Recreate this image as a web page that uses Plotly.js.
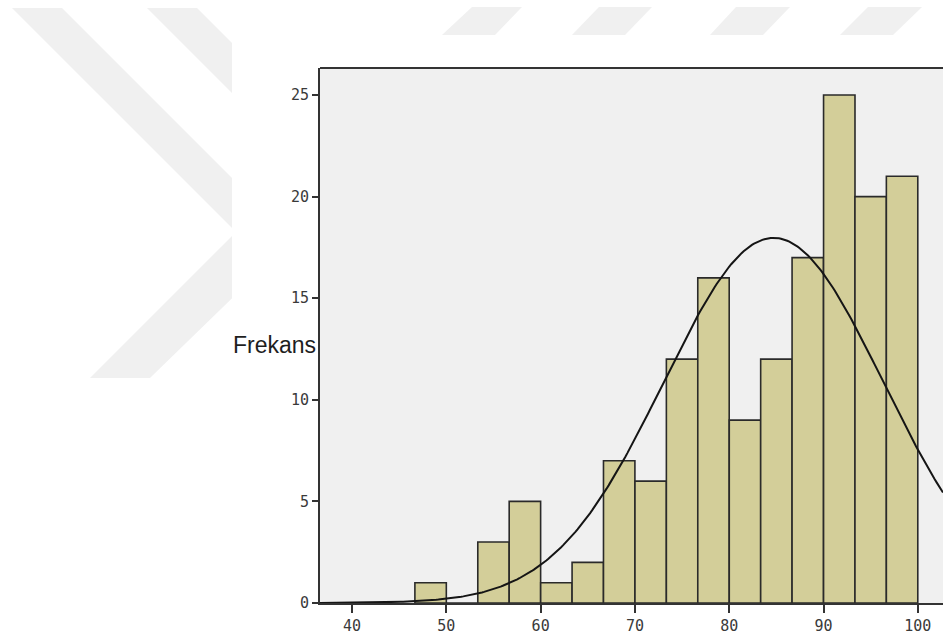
<!DOCTYPE html>
<html>
<head>
<meta charset="utf-8">
<script src="https://cdn.plot.ly/plotly-3.0.1.min.js"></script>
<style>
  html, body { margin: 0; padding: 0; background: #ffffff; }
  #chart { width: 943px; height: 636px; }
</style>
</head>
<body>
<div id="chart"></div>
<script>
// Histogram of scores: bin centres (bin width 10/3) and frequencies
const binCenters = [48.33, 51.67, 55, 58.33, 61.67, 65, 68.33, 71.67, 75, 78.33, 81.67, 85, 88.33, 91.67, 95, 98.33];
const frequencies = [1, 0, 3, 5, 1, 2, 7, 6, 12, 16, 9, 12, 17, 25, 20, 21];
const binWidth = 10 / 3;

// Fitted normal curve parameters
const curveMean = 84.7;
const curveSD = 11.62;

const xTickValues = [40, 50, 60, 70, 80, 90, 100];
const yTickValues = [0, 5, 10, 15, 20, 25];
const xRange = [36.6, 102.67];
const yRange = [0, 26.33];

// Normal curve scaled to counts (N * bin width * density)
const total = frequencies.reduce((a, b) => a + b, 0);
const curveX = [];
const curveY = [];
for (let i = 0; i <= 300; i++) {
  const x = xRange[0] + (xRange[1] - xRange[0]) * i / 300;
  const z = (x - curveMean) / curveSD;
  curveX.push(x);
  curveY.push(total * binWidth * Math.exp(-0.5 * z * z) / (curveSD * Math.sqrt(2 * Math.PI)));
}

// Page geometry of the plotting area (px)
const W = 943, H = 636;
const M = { l: 320, r: 0, t: 68, b: 33 };
const plotW = W - M.l - M.r, plotH = H - M.t - M.b;
const px2x = px => (px - M.l) / plotW;
const px2y = py => (H - M.b - py) / plotH;
const poly = pts => 'M ' + pts.map(p => px2x(p[0]).toFixed(4) + ',' + px2y(p[1]).toFixed(4)).join(' L ') + ' Z';

const wmColor = '#f0f0f0';
const shapes = [];
// faint background emblem
[
  [[12, 8], [62, 8], [293, 239], [150, 378], [90, 378], [236, 232]],
  [[147, 8], [197, 8], [300, 111], [250, 111]],
  [[442, 35], [472, 7], [522, 7], [495, 35]],
  [[572, 35], [599, 7], [652, 7], [625, 35]],
  [[710, 35], [736, 7], [790, 7], [763, 35]],
  [[840, 35], [868, 7], [922, 7], [893, 35]]
].forEach(p => shapes.push({
  type: 'path', xref: 'paper', yref: 'paper', layer: 'below',
  path: poly(p), fillcolor: wmColor, line: { width: 0 }
}));
// white chart panel
shapes.push({
  type: 'rect', xref: 'paper', yref: 'paper', layer: 'below',
  x0: px2x(232), x1: px2x(W + 5), y0: px2y(35), y1: px2y(H + 5),
  fillcolor: '#ffffff', line: { width: 0 }
});
// plotting area background
shapes.push({
  type: 'rect', xref: 'paper', yref: 'paper', layer: 'below',
  x0: 0, x1: 1.01, y0: 0, y1: 1,
  fillcolor: '#f0f0f0', line: { width: 0 }
});
// top frame line
shapes.push({
  type: 'line', xref: 'paper', yref: 'paper', layer: 'above',
  x0: 0, x1: 1.01, y0: 1, y1: 1,
  line: { color: '#333333', width: 2 }
});

const tickFont = { family: 'DejaVu Sans Mono, monospace', size: 15, color: '#3a3a3a' };

const traces = [
  {
    type: 'bar',
    x: binCenters,
    y: frequencies,
    width: binWidth,
    marker: { color: '#d3ce99', line: { color: '#2a2a2a', width: 1.6 } },
    hoverinfo: 'x+y'
  },
  {
    type: 'scatter',
    mode: 'lines',
    x: curveX,
    y: curveY,
    line: { color: '#151515', width: 2 },
    hoverinfo: 'skip'
  }
];

const layout = {
  width: W,
  height: H,
  margin: M,
  paper_bgcolor: 'rgba(0,0,0,0)',
  plot_bgcolor: 'rgba(0,0,0,0)',
  showlegend: false,
  bargap: 0,
  xaxis: {
    range: xRange,
    tickvals: xTickValues,
    ticktext: xTickValues.map(String),
    ticks: 'outside', ticklen: 8, tickwidth: 2, tickcolor: '#333333',
    showline: true, linecolor: '#333333', linewidth: 2,
    showgrid: false, zeroline: false,
    tickfont: tickFont
  },
  yaxis: {
    range: yRange,
    tickvals: yTickValues,
    ticktext: yTickValues.map(String),
    ticks: 'outside', ticklen: 6, tickwidth: 2, tickcolor: '#333333',
    showline: true, linecolor: '#333333', linewidth: 2,
    showgrid: false, zeroline: false,
    tickfont: tickFont
  },
  shapes: shapes,
  annotations: [{
    text: 'Frekans',
    xref: 'paper', yref: 'paper',
    x: px2x(318), y: px2y(345),
    xanchor: 'right', yanchor: 'middle',
    showarrow: false,
    font: { family: 'Liberation Sans, Arial, sans-serif', size: 23, color: '#1e1e1e' }
  }]
};

Plotly.newPlot('chart', traces, layout, { displayModeBar: false, staticPlot: true });
</script>
</body>
</html>
